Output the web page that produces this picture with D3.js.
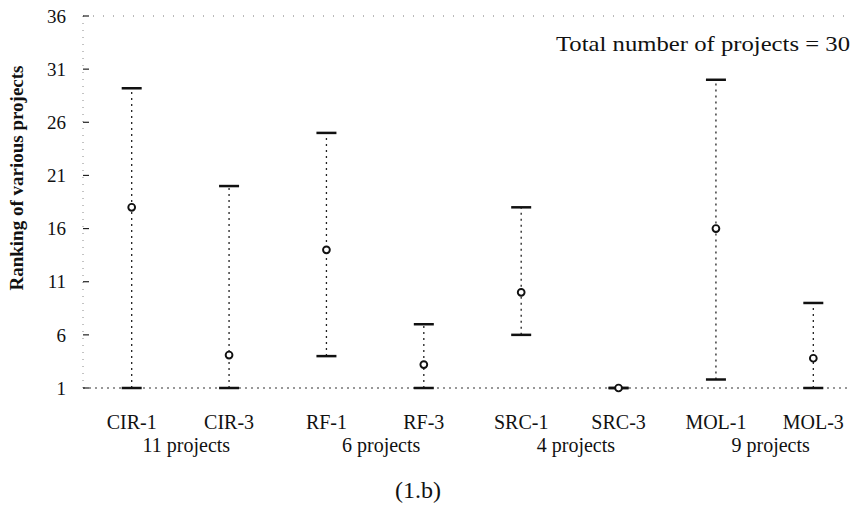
<html>
<head>
<meta charset="utf-8">
<script src="https://cdnjs.cloudflare.com/ajax/libs/d3/7.8.5/d3.min.js"></script>
<style>
  body { margin: 0; background: #fff; }
  text { font-family: "Liberation Serif", "DejaVu Serif", serif; fill: #111; }
</style>
</head>
<body>
<div id="chart"></div>
<script>
// rankings
var categories = ["CIR-1", "CIR-3", "RF-1", "RF-3", "SRC-1", "SRC-3", "MOL-1", "MOL-3"];
var minRank  = [1, 1, 4, 1, 6, 1, 1.8, 1];
var meanRank = [18, 4.1, 14, 3.2, 10, 1, 16, 3.8];
var maxRank  = [29.2, 20, 25, 7, 18, 1, 30, 9];
var groups = ["11 projects", "6 projects", "4 projects", "9 projects"];
var yTicks = [1, 6, 11, 16, 21, 26, 31, 36];

var W = 858, H = 514;
var svg = d3.select("#chart").append("svg")
    .attr("width", W).attr("height", H);

var x = d3.scalePoint().domain(categories).range([83, 862]).padding(0.5);
var y = d3.scaleLinear().domain([1, 36]).range([388, 16]);

// faint dotted frame (scan)
svg.append("line").attr("x1", 83).attr("x2", 850).attr("y1", y(1)).attr("y2", y(1))
   .attr("stroke", "#333").attr("stroke-width", 1.2).attr("stroke-dasharray", "2,4");
svg.append("line").attr("x1", 83).attr("x2", 850).attr("y1", y(36)).attr("y2", y(36))
   .attr("stroke", "#777").attr("stroke-width", 1).attr("stroke-dasharray", "1,9");
svg.append("line").attr("x1", 83).attr("x2", 83).attr("y1", y(36)).attr("y2", y(1))
   .attr("stroke", "#888").attr("stroke-width", 1).attr("stroke-dasharray", "1,6");

// y ticks + labels
var yt = svg.append("g").selectAll("g").data(yTicks).enter().append("g");
yt.append("line").attr("x1", 83).attr("x2", 89)
  .attr("y1", function(d){ return y(d); }).attr("y2", function(d){ return y(d); })
  .attr("stroke", "#222").attr("stroke-width", 1.2);
yt.append("text").attr("x", 66).attr("y", function(d){ return y(d); })
  .attr("dy", "0.35em").attr("text-anchor", "end")
  .style("font-size", "19px").text(function(d){ return d; });

svg.append("text")
  .attr("transform", "translate(23," + 178 + ") rotate(-90)")
  .attr("text-anchor", "middle").style("font-size", "19px").style("font-weight", "bold")
  .text("Ranking of various projects");

// error bars
var bars = svg.append("g").selectAll("g").data(categories).enter().append("g");
bars.append("line")
  .attr("x1", function(d){ return x(d); }).attr("x2", function(d){ return x(d); })
  .attr("y1", function(d, i){ return y(minRank[i]); })
  .attr("y2", function(d, i){ return y(maxRank[i]); })
  .attr("stroke", "#222").attr("stroke-width", 1.3).attr("stroke-dasharray", "2,4");
bars.append("line")
  .attr("x1", function(d){ return x(d) - 10; }).attr("x2", function(d){ return x(d) + 10; })
  .attr("y1", function(d, i){ return y(maxRank[i]); })
  .attr("y2", function(d, i){ return y(maxRank[i]); })
  .attr("stroke", "#111").attr("stroke-width", 2.5);
bars.append("line")
  .attr("x1", function(d){ return x(d) - 10; }).attr("x2", function(d){ return x(d) + 10; })
  .attr("y1", function(d, i){ return y(minRank[i]); })
  .attr("y2", function(d, i){ return y(minRank[i]); })
  .attr("stroke", "#111").attr("stroke-width", 2.5);
bars.append("circle")
  .attr("cx", function(d){ return x(d); })
  .attr("cy", function(d, i){ return y(meanRank[i]); })
  .attr("r", 3.4).attr("fill", "#fff").attr("stroke", "#111").attr("stroke-width", 1.9);

// x labels
svg.append("g").selectAll("text").data(categories).enter().append("text")
  .attr("x", function(d){ return x(d); }).attr("y", 429)
  .attr("text-anchor", "middle").style("font-size", "20px")
  .text(function(d){ return d; });

svg.append("g").selectAll("text").data(groups).enter().append("text")
  .attr("x", function(d, i){ return (x(categories[2*i]) + x(categories[2*i+1])) / 2 + 6; })
  .attr("y", 452).attr("text-anchor", "middle").style("font-size", "20px")
  .text(function(d){ return d; });

svg.append("text").attr("x", 556).attr("y", 51)
  .attr("textLength", 294).attr("lengthAdjust", "spacingAndGlyphs")
  .style("font-size", "21px").text("Total number of projects = 30");

svg.append("text").attr("x", 418).attr("y", 498).attr("text-anchor", "middle")
  .style("font-size", "24px").text("(1.b)");
</script>
</body>
</html>
